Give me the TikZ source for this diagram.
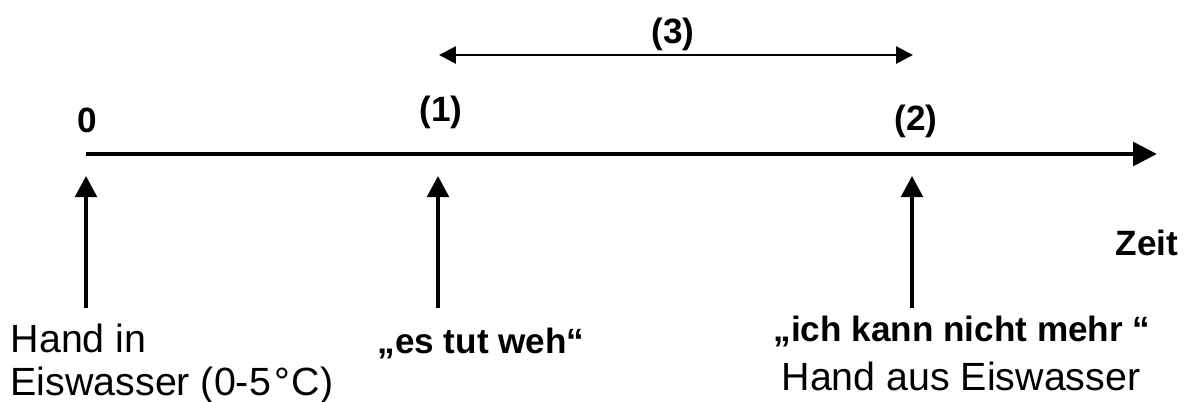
\documentclass[tikz,border=0pt]{standalone}
\usepackage{fontspec}
\setmainfont{Liberation Sans}
\usepackage{tikz}
\usetikzlibrary{arrows.meta}

\tikzset{
  lbl/.style={font=\fontsize{10}{12}\selectfont\bfseries, inner sep=0pt},
  txt/.style={font=\fontsize{11.2}{12.4}\selectfont, inner sep=0pt},
}

\begin{document}
\begin{tikzpicture}
            \useasboundingbox (0,0) rectangle (11.86,4.01);
            % Nodes
            \coordinate (T0) at (0.86,2.47);
            \coordinate (T1) at (11.57,2.47);
            \coordinate (L) at (4.39,3.46);
            \coordinate (R) at (9.13,3.46);
            \coordinate (B0) at (0.86,0.93);
            \coordinate (U0) at (0.86,2.25);
            \coordinate (B1) at (4.38,0.93);
            \coordinate (U1) at (4.38,2.25);
            \coordinate (B2) at (9.12,0.93);
            \coordinate (U2) at (9.12,2.25);

            \node[lbl] (N0) at (0.87,2.81) {0};
            \node[lbl] (N1) at (4.41,2.89) {(1)};
            \node[lbl] (N2) at (9.16,2.80) {(2)};
            \node[lbl] (N3) at (6.73,3.67) {(3)};
            \node[lbl] (Zeit) at (11.47,1.58) {Zeit};
            \node[txt, align=left, anchor=west] (Hin) at (0.10,0.37) {Hand in\\Eiswasser (0-5\kern1pt°\kern0.5ptC)};
            \node[lbl] (Weh) at (4.81,0.58) {„es tut weh“};
            \node[lbl] (Mehr) at (9.62,0.70) {„ich kann nicht mehr “};
            \node[txt] (Haus) at (9.61,0.25) {Hand aus Eiswasser};

            % Lines
            \draw[line width=1.4pt, -{Triangle[length=6.8pt, width=6.6pt]}] (T0) -- (T1);
            \draw[line width=0.8pt, {Triangle[length=4.8pt, width=4.8pt]}-{Triangle[length=4.8pt, width=4.8pt]}] (L) -- (R);
            \draw[line width=0.9pt, -{Triangle[length=6pt, width=6.2pt]}] (B0) -- (U0);
            \draw[line width=0.9pt, -{Triangle[length=6pt, width=6.2pt]}] (B1) -- (U1);
            \draw[line width=0.9pt, -{Triangle[length=6pt, width=6.2pt]}] (B2) -- (U2);
        \end{tikzpicture}
\end{document}
